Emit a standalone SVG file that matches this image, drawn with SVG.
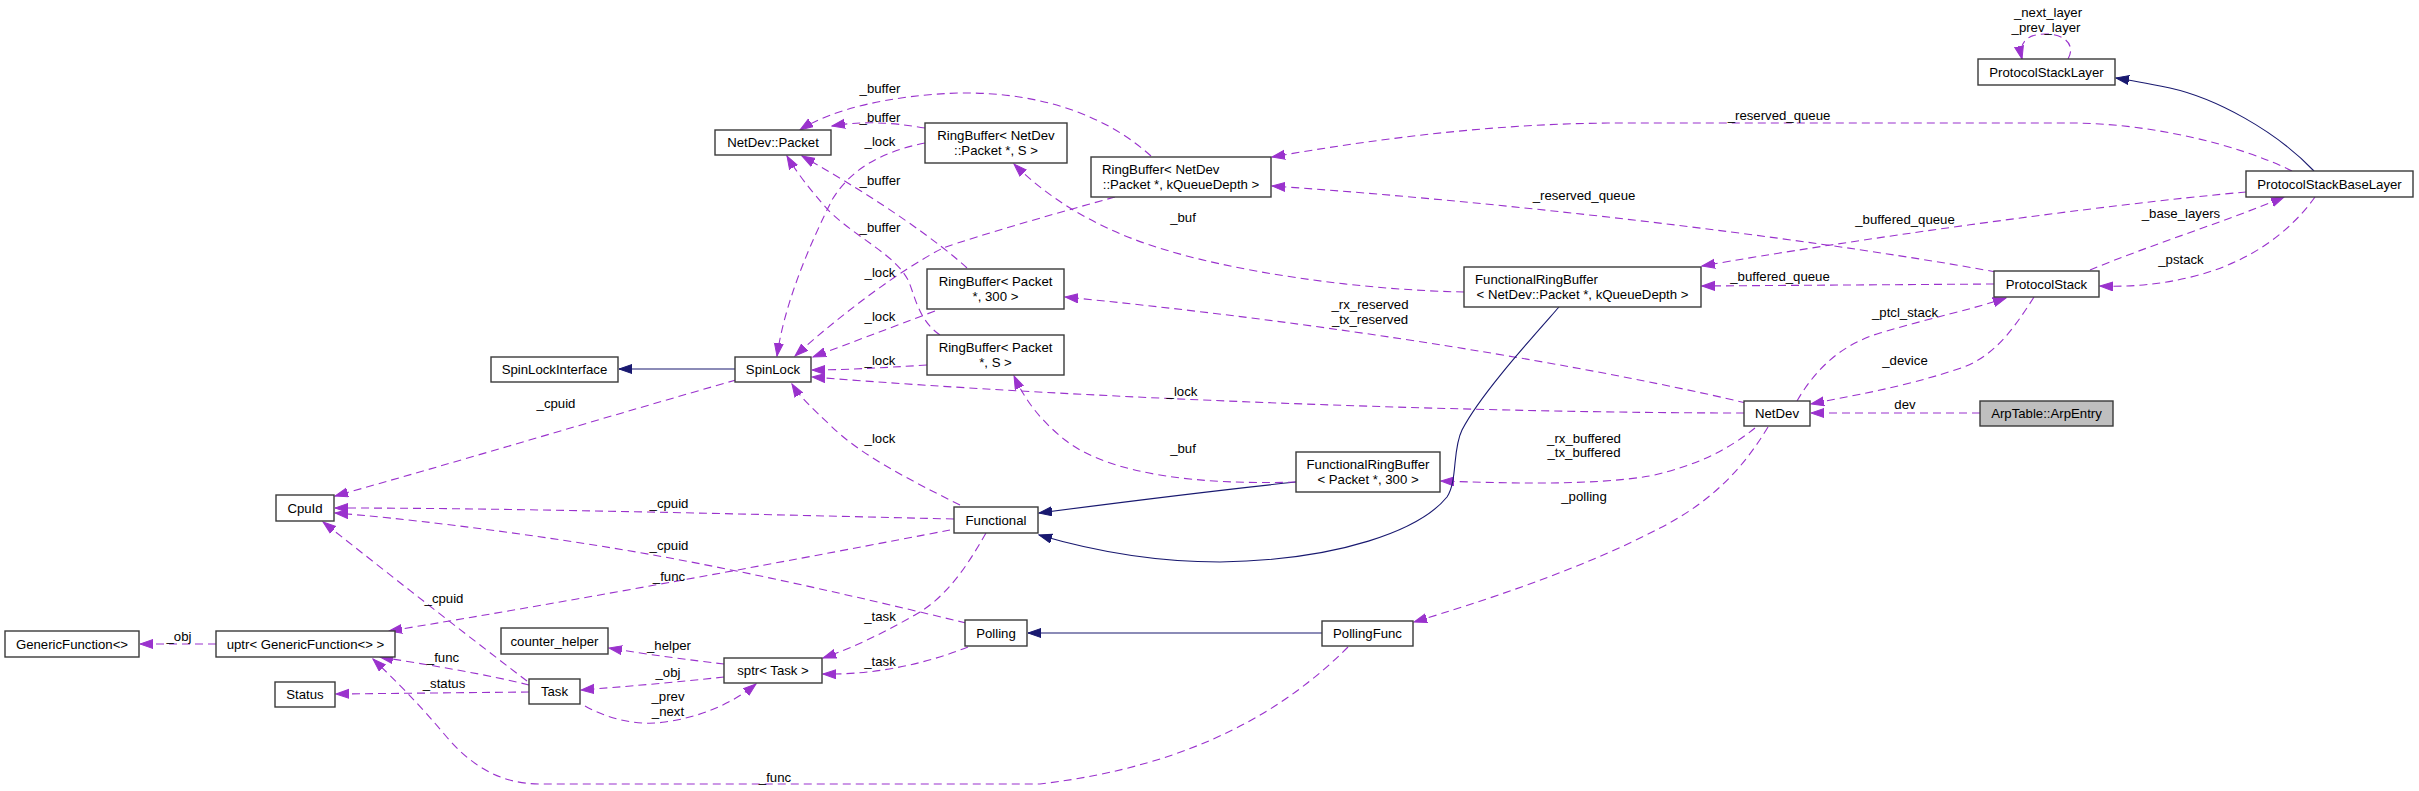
<svg xmlns="http://www.w3.org/2000/svg" width="2419" height="791" viewBox="0 0 2419 791">
<style>
.n rect{fill:#fff;stroke:#3a3a3a;stroke-width:1.4}
.n rect.g{fill:#bfbfbf}
text{font-family:"Liberation Sans",Arial,Helvetica,sans-serif;font-size:13.2px;fill:#000}
.n text{text-anchor:middle}
.l{text-anchor:middle}
.e{fill:none;stroke:#9a32cd;stroke-width:1.1;stroke-dasharray:8,5;marker-end:url(#ap)}
.i{fill:none;stroke:#191970;stroke-width:1.1;marker-end:url(#ab)}
</style>
<defs>
<marker id="ap" markerUnits="userSpaceOnUse" markerWidth="14" markerHeight="11" refX="13" refY="5" orient="auto"><path d="M0,0.5 L13,5 L0,9.5 z" fill="#9a32cd" stroke="#9a32cd" stroke-width="1"/></marker>
<marker id="ab" markerUnits="userSpaceOnUse" markerWidth="14" markerHeight="11" refX="13" refY="5" orient="auto"><path d="M0,0.5 L13,5 L0,9.5 z" fill="#191970" stroke="#191970" stroke-width="1"/></marker>
</defs>
<rect width="2419" height="791" fill="#fff"/>
<g id="edges">
<path class="e" d="M2068,59 C2076,45 2065,34 2045,34 C2028,34 2018,42 2022,59"/>
<text class="l" x="2048" y="17">_next_layer</text>
<text class="l" x="2046" y="32">_prev_layer</text>
<path class="i" d="M2314,171 C2275,130 2215,98 2170,88 C2150,84 2135,81 2116,78"/>
<path class="e" d="M2292,171 C2240,145 2150,123 2070,123 L1620,123 C1500,123 1380,138 1272,157"/>
<text class="l" x="1779" y="120">_reserved_queue</text>
<path class="e" d="M1996,272 C1850,245 1550,205 1272,186"/>
<text class="l" x="1584" y="200">_reserved_queue</text>
<path class="e" d="M2246,192 C2100,205 1850,240 1702,266"/>
<text class="l" x="1905" y="224">_buffered_queue</text>
<path class="e" d="M1994,284 L1702,286"/>
<text class="l" x="1780" y="281">_buffered_queue</text>
<path class="e" d="M2090,270 C2150,245 2230,220 2284,197"/>
<text class="l" x="2181" y="218">_base_layers</text>
<path class="e" d="M2315,197 C2290,232 2250,262 2195,276 C2160,285 2130,287 2100,286"/>
<text class="l" x="2181" y="264">_pstack</text>
<path class="e" d="M1797,401 C1815,370 1840,345 1880,333 C1930,318 1970,310 2006,298"/>
<text class="l" x="1905" y="317">_ptcl_stack</text>
<path class="e" d="M2034,297 C2010,335 1990,360 1955,370 C1900,388 1850,396 1811,404"/>
<text class="l" x="1905" y="365">_device</text>
<path class="e" d="M1980,413 L1811,413"/>
<text class="l" x="1905" y="409">dev</text>
<path class="e" d="M1746,403 C1650,380 1400,330 1065,297"/>
<text class="l" x="1370" y="309">_rx_reserved</text>
<text class="l" x="1370" y="324">_tx_reserved</text>
<path class="e" d="M1744,413 C1500,413 1100,400 812,377"/>
<text class="l" x="1182" y="396">_lock</text>
<path class="e" d="M1755,428 C1730,448 1700,465 1650,476 C1590,486 1500,483 1441,481"/>
<text class="l" x="1584" y="443">_rx_buffered</text>
<text class="l" x="1584" y="457">_tx_buffered</text>
<path class="e" d="M1768,427 C1745,465 1715,500 1660,528 C1580,570 1480,602 1414,622"/>
<text class="l" x="1584" y="501">_polling</text>
<path class="i" d="M1559,307 C1530,340 1480,395 1462,430 C1452,450 1458,480 1447,497 C1420,530 1340,560 1220,562 C1150,562 1090,550 1039,535"/>
<path class="i" d="M1296,482 C1220,490 1100,505 1039,513"/>
<path class="i" d="M1322,633 L1028,633"/>
<path class="i" d="M735,369 L619,369"/>
<path class="e" d="M1464,292 C1360,290 1230,272 1150,245 C1090,225 1045,195 1014,164"/>
<text class="l" x="1183" y="222">_buf</text>
<path class="e" d="M1296,482 C1200,485 1110,475 1065,440 C1040,420 1025,400 1014,376"/>
<text class="l" x="1183" y="453">_buf</text>
<path class="e" d="M960,505 C910,480 860,455 830,425 C812,408 800,397 792,384"/>
<text class="l" x="880" y="443">_lock</text>
<path class="e" d="M954,519 C700,513 500,508 335,508"/>
<text class="l" x="669" y="508">_cpuid</text>
<path class="e" d="M966,623 C850,595 720,565 600,546 C500,530 400,518 335,513"/>
<text class="l" x="669" y="550">_cpuid</text>
<path class="e" d="M950,530 C820,555 580,600 389,631"/>
<text class="l" x="669" y="581">_func</text>
<path class="e" d="M736,380 C620,413 450,464 335,496"/>
<text class="l" x="556" y="408">_cpuid</text>
<path class="e" d="M527,681 C460,630 390,575 323,522"/>
<text class="l" x="444" y="603">_cpuid</text>
<path class="e" d="M529,685 C490,675 430,665 380,657"/>
<text class="l" x="443" y="662">_func</text>
<path class="e" d="M529,692 L336,694"/>
<text class="l" x="444" y="688">_status</text>
<path class="e" d="M1348,647 C1290,705 1200,765 1040,784 L540,784 C500,784 470,765 445,735 C420,705 395,680 373,659"/>
<text class="l" x="775" y="782">_func</text>
<path class="e" d="M216,644 L140,644"/>
<text class="l" x="179" y="641">_obj</text>
<path class="e" d="M986,533 C965,570 945,598 915,615 C885,632 855,647 823,658"/>
<text class="l" x="880" y="621">_task</text>
<path class="e" d="M968,647 C930,662 880,675 823,674"/>
<text class="l" x="880" y="666">_task</text>
<path class="e" d="M724,664 C690,660 650,655 609,648"/>
<text class="l" x="669" y="650">_helper</text>
<path class="e" d="M724,677 C680,682 620,687 581,690"/>
<text class="l" x="668" y="677">_obj</text>
<path class="e" d="M585,706 C610,720 640,726 665,722 C700,717 730,705 756,684"/>
<text class="l" x="668" y="701">_prev</text>
<text class="l" x="668" y="716">_next</text>
<path class="e" d="M925,128 C890,122 860,121 832,126"/>
<text class="l" x="880" y="122">_buffer</text>
<path class="e" d="M1151,156 C1100,110 1030,92 960,93 C890,95 830,110 800,130"/>
<text class="l" x="880" y="93">_buffer</text>
<path class="e" d="M925,143 C880,152 850,170 832,200 C812,240 785,300 777,356"/>
<text class="l" x="880" y="146">_lock</text>
<path class="e" d="M967,268 C940,243 880,200 802,156"/>
<text class="l" x="880" y="185">_buffer</text>
<path class="e" d="M940,335 C918,320 915,295 908,280 C895,255 860,240 830,212 C810,190 795,170 787,156"/>
<text class="l" x="880" y="232">_buffer</text>
<path class="e" d="M1115,197 C1050,215 980,235 943,248 C900,270 840,315 795,356"/>
<text class="l" x="880" y="277">_lock</text>
<path class="e" d="M935,311 C890,328 850,343 813,357"/>
<text class="l" x="880" y="321">_lock</text>
<path class="e" d="M927,365 C880,368 840,370 812,370"/>
<text class="l" x="880" y="365">_lock</text>
</g>
<g id="ProtocolStackLayer" class="n"><rect x="1978" y="59" width="137" height="26"/><text x="2046.5" y="76.5">ProtocolStackLayer</text></g>
<g id="ProtocolStackBaseLayer" class="n"><rect x="2246" y="171" width="167" height="26"/><text x="2329.5" y="188.5">ProtocolStackBaseLayer</text></g>
<g id="NetDevPacket" class="n"><rect x="715" y="130" width="116" height="25"/><text x="773" y="147">NetDev::Packet</text></g>
<g id="RingBufferNetDevS" class="n"><rect x="925" y="123" width="142" height="40"/><text x="996" y="140">RingBuffer&lt; NetDev</text><text x="996" y="155">::Packet *, S &gt;</text></g>
<g id="RingBufferNetDevKQ" class="n"><rect x="1091" y="157" width="180" height="40"/><text x="1102" y="174" style="text-anchor:start">RingBuffer&lt; NetDev</text><text x="1181" y="189">::Packet *, kQueueDepth &gt;</text></g>
<g id="ProtocolStack" class="n"><rect x="1994" y="271" width="105" height="26"/><text x="2046.5" y="288.5">ProtocolStack</text></g>
<g id="FunctionalRingBufferKQ" class="n"><rect x="1464" y="267" width="237" height="40"/><text x="1475" y="284" style="text-anchor:start">FunctionalRingBuffer</text><text x="1582.5" y="299">&lt; NetDev::Packet *, kQueueDepth &gt;</text></g>
<g id="RingBufferPacket300" class="n"><rect x="927" y="269" width="137" height="40"/><text x="995.5" y="286">RingBuffer&lt; Packet</text><text x="995.5" y="301">*, 300 &gt;</text></g>
<g id="RingBufferPacketS" class="n"><rect x="927" y="335" width="137" height="40"/><text x="995.5" y="352">RingBuffer&lt; Packet</text><text x="995.5" y="367">*, S &gt;</text></g>
<g id="SpinLockInterface" class="n"><rect x="491" y="357" width="127" height="25"/><text x="554.5" y="374">SpinLockInterface</text></g>
<g id="SpinLock" class="n"><rect x="735" y="357" width="76" height="25"/><text x="773" y="374">SpinLock</text></g>
<g id="NetDev" class="n"><rect x="1744" y="401" width="66" height="25"/><text x="1777" y="418">NetDev</text></g>
<g id="ArpEntry" class="n"><rect class="g" x="1980" y="401" width="133" height="25"/><text x="2046.5" y="418">ArpTable::ArpEntry</text></g>
<g id="CpuId" class="n"><rect x="276" y="495" width="58" height="26"/><text x="305" y="512.5">CpuId</text></g>
<g id="FunctionalRingBuffer300" class="n"><rect x="1296" y="452" width="144" height="40"/><text x="1368" y="469">FunctionalRingBuffer</text><text x="1368" y="484">&lt; Packet *, 300 &gt;</text></g>
<g id="Functional" class="n"><rect x="954" y="507" width="84" height="26"/><text x="996" y="524.5">Functional</text></g>
<g id="GenericFunction" class="n"><rect x="5" y="631" width="134" height="26"/><text x="72" y="648.5">GenericFunction&lt;&gt;</text></g>
<g id="uptrGenericFunction" class="n"><rect x="216" y="631" width="179" height="26"/><text x="305.5" y="648.5">uptr&lt; GenericFunction&lt;&gt; &gt;</text></g>
<g id="counter_helper" class="n"><rect x="501" y="628" width="107" height="26"/><text x="554.5" y="645.5">counter_helper</text></g>
<g id="sptrTask" class="n"><rect x="724" y="658" width="98" height="25"/><text x="773" y="675">sptr&lt; Task &gt;</text></g>
<g id="Polling" class="n"><rect x="965" y="620" width="62" height="26"/><text x="996" y="637.5">Polling</text></g>
<g id="PollingFunc" class="n"><rect x="1322" y="621" width="91" height="25"/><text x="1367.5" y="638">PollingFunc</text></g>
<g id="Status" class="n"><rect x="275" y="682" width="60" height="25"/><text x="305" y="699">Status</text></g>
<g id="Task" class="n"><rect x="529" y="679" width="51" height="25"/><text x="554.5" y="696">Task</text></g>
</svg>
